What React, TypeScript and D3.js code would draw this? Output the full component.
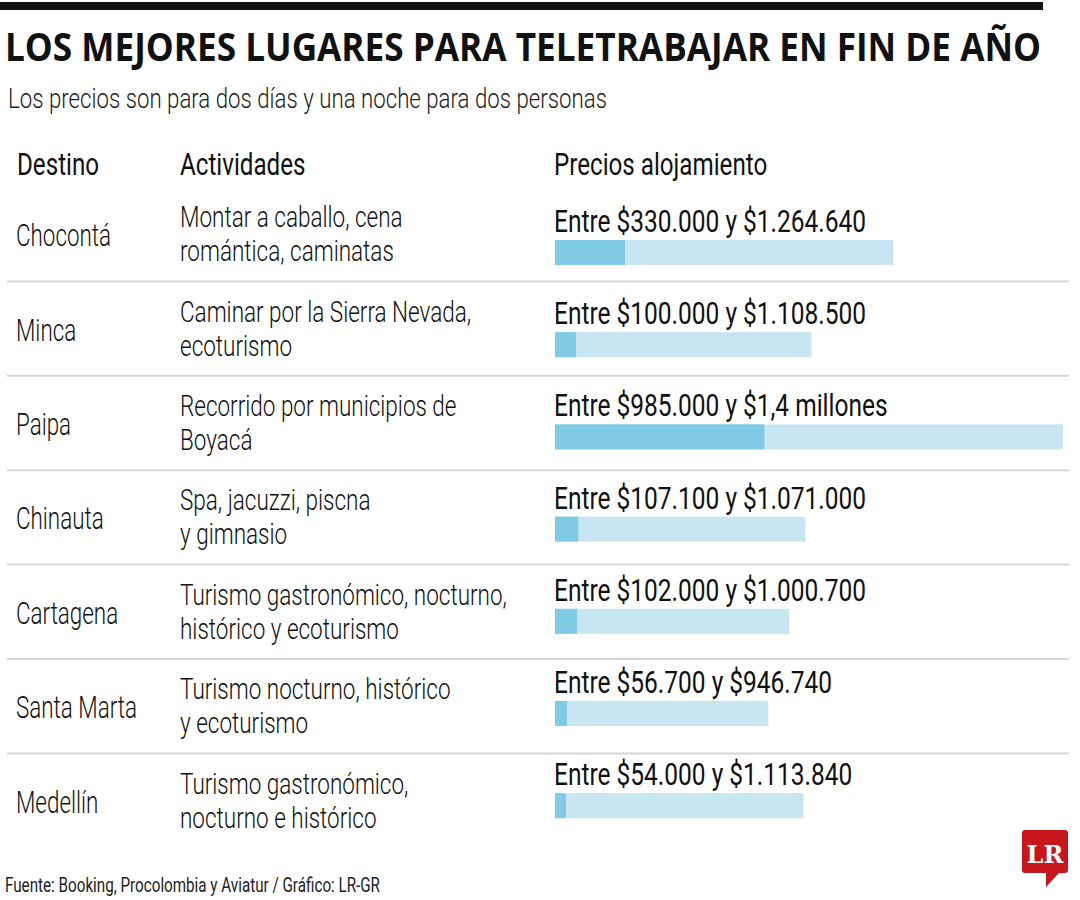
import React from 'react';
import * as d3 from 'd3';

// ---- Data ----
const destinos = ['Chocontá', 'Minca', 'Paipa', 'Chinauta', 'Cartagena', 'Santa Marta', 'Medellín'];
const actividades = [
  ['Montar a caballo, cena', 'romántica, caminatas'],
  ['Caminar por la Sierra Nevada,', 'ecoturismo'],
  ['Recorrido por municipios de', 'Boyacá'],
  ['Spa, jacuzzi, piscna', 'y gimnasio'],
  ['Turismo gastronómico, nocturno,', 'histórico y ecoturismo'],
  ['Turismo nocturno, histórico', 'y ecoturismo'],
  ['Turismo gastronómico,', 'nocturno e histórico'],
];
const precioMin = [330000, 100000, 985000, 107100, 102000, 56700, 54000];
const precioMaxTexto = ['$1.264.640', '$1.108.500', '$1,4 millones', '$1.071.000', '$1.000.700', '$946.740', '$1.113.840'];
// Bar extents as drawn in the graphic (pesos, read against the full Paipa bar = $1,4 millones)
const barraBaja = [193000, 58000, 577000, 64000, 61000, 33000, 30000];
const barraAlta = [933000, 707000, 1400000, 690000, 646000, 588000, 685000];
const encabezados = ['Destino', 'Actividades', 'Precios alojamiento'];

const titulo = 'LOS MEJORES LUGARES PARA TELETRABAJAR EN FIN DE AÑO';
const subtitulo = 'Los precios son para dos días y una noche para dos personas';
const fuente = 'Fuente: Booking, Procolombia y Aviatur / Gráfico: LR-GR';

const locale = d3.formatLocale({ decimal: ',', thousands: '.', grouping: [3], currency: ['$', ''] });
const fmt = locale.format('$,.0f');

const COND = "Roboto, 'Liberation Sans Narrow', sans-serif";

function T({ x, y, sx = 0.72, size = 31, weight = 300, fill = '#111', children }: any) {
  return (
    <text
      transform={`translate(${x},${y}) scale(${sx},1)`}
      fontFamily={COND}
      fontSize={size}
      fontWeight={weight}
      fill={fill}
    >
      {children}
    </text>
  );
}

export default function App() {
  const n = destinos.length;
  const x = d3.scaleLinear().domain([0, 1400000]).range([555, 1063]);
  const rowTop = d3.scaleLinear().domain([0, 1]).range([187, 281.4]);
  const barTop = d3.scaleLinear().domain([0, 1]).range([240, 332.2]);
  const idx = d3.range(n);
  const titleSx = 0.82;

  return (
    <svg width={1080} height={900} style={{ position: 'absolute', left: 0, top: 0, background: '#fff' }}>
      <rect x={0} y={2} width={1043} height={8} fill="#111" />
      <text transform={`translate(5,61) scale(${titleSx},1)`} fontFamily="'Open Sans', 'Noto Sans', sans-serif"
        fontWeight={700} fontSize={40} fill="#111" textLength={1036 / titleSx} lengthAdjust="spacingAndGlyphs">{titulo}</text>
      <text transform="translate(8,108) scale(0.76,1)" fontFamily={COND} fontWeight={300} fontSize={28}
        fill="#222" textLength={599 / 0.76} lengthAdjust="spacingAndGlyphs">{subtitulo}</text>

      <T x={17} y={175} sx={0.78} weight={400} size={31}>{encabezados[0]}</T>
      <T x={180} y={175} sx={0.78} weight={400} size={31}>{encabezados[1]}</T>
      <T x={554} y={175} sx={0.78} weight={400} size={31}>{encabezados[2]}</T>

      {idx.slice(0, n - 1).map(i => (
        <line key={'s' + i} x1={7} x2={1069} y1={rowTop(i + 1)} y2={rowTop(i + 1)} stroke="#d6d6d6" strokeWidth={2} />
      ))}

      {idx.map(i => {
        const c = (rowTop(i) + rowTop(i + 1)) / 2;
        const bt = barTop(i);
        return (
          <g key={i}>
            <T x={16} y={c + 12} sx={0.7} size={32}>{destinos[i]}</T>
            <T x={180} y={c - 7} sx={0.75} size={30}>{actividades[i][0]}</T>
            <T x={180} y={c + 27} sx={0.75} size={30}>{actividades[i][1]}</T>
            <T x={554} y={bt - 8} sx={0.79} weight={400} size={31}>{`Entre ${fmt(precioMin[i])} y ${precioMaxTexto[i]}`}</T>
            <rect x={x(0)} y={bt} width={x(barraAlta[i]) - x(0)} height={25} fill="#c7e6f1" />
            <rect x={x(0)} y={bt} width={x(barraBaja[i]) - x(0)} height={25} fill="#7fcbe3" />
          </g>
        );
      })}

      <text transform="translate(5,892) scale(0.8,1)" fontFamily={COND} fontWeight={400} fontSize={20} fill="#222"
        textLength={375 / 0.8} lengthAdjust="spacingAndGlyphs">{fuente}</text>

      <g>
        <rect x={1022} y={830} width={46} height={43} rx={3} fill="#c8161d" />
        <path d="M1046,872 L1046,887 L1060,872 Z" fill="#c8161d" />
        <text x={1045} y={863} textAnchor="middle" fontFamily="'DejaVu Serif', 'Liberation Serif', serif"
          fontWeight={700} fontSize={24} fill="#fff">LR</text>
      </g>
    </svg>
  );
}
